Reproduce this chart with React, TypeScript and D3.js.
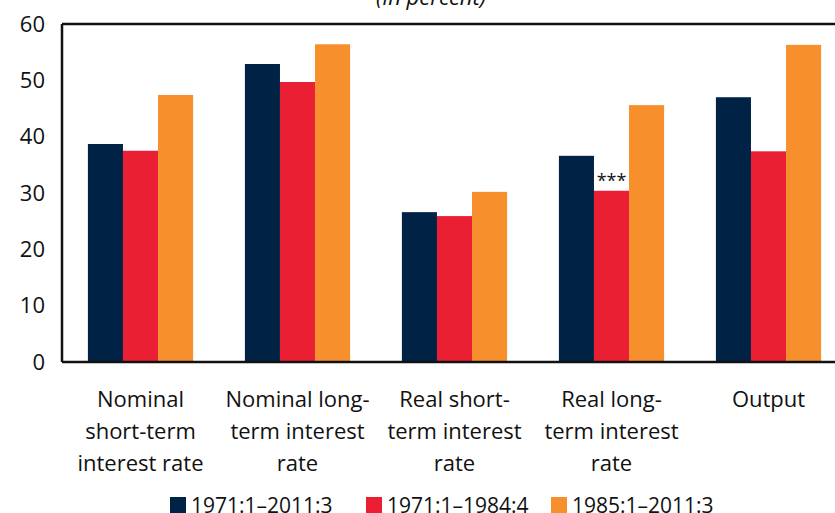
import React, { useEffect, useRef } from "react";
import * as d3 from "d3";

const categories = [
  ["Nominal", "short-term", "interest rate"],
  ["Nominal long-", "term interest", "rate"],
  ["Real short-", "term interest", "rate"],
  ["Real long-", "term interest", "rate"],
  ["Output"],
];
const seriesNames = ["1971:1\u20132011:3", "1971:1\u20131984:4", "1985:1\u20132011:3"];
const fullPeriod = [38.7, 52.9, 26.6, 36.6, 47.0];
const earlyPeriod = [37.5, 49.7, 25.9, 30.4, 37.4];
const latePeriod = [47.4, 56.4, 30.2, 45.6, 56.3];
const yTicks = [0, 10, 20, 30, 40, 50, 60];
const colors = ["#002244", "#ea1f33", "#f68f2c"];
// significance marker: series index 1, category index 3
const starMarks = [{ cat: 3, series: 1, text: "***" }];

const W = 835;
const H = 513;
const margin = { top: 24, left: 62, bottom: 151 };
const plotRight = 847;
const font = "'Open Sans', sans-serif";

const App = () => {
  const ref = useRef<SVGSVGElement>(null);
  useEffect(() => {
    document.body.style.margin = "0";
    const svg = d3.select(ref.current);
    svg.selectAll("*").remove();

    const x = d3
      .scaleBand<number>()
      .domain(d3.range(categories.length))
      .range([margin.left, plotRight])
      .paddingInner(0.33)
      .paddingOuter(0.165);
    const xs = d3
      .scaleBand<number>()
      .domain([0, 1, 2])
      .range([0, x.bandwidth()]);
    const y = d3
      .scaleLinear()
      .domain([0, 60])
      .range([H - margin.bottom, margin.top]);

    const data = [fullPeriod, earlyPeriod, latePeriod];

    svg
      .append("text")
      .attr("x", 431)
      .attr("y", 5)
      .attr("text-anchor", "middle")
      .style("font-family", font)
      .style("font-style", "italic")
      .style("font-size", "22px")
      .attr("fill", "#111")
      .text("(In percent)");

    data.forEach((vals, si) => {
      svg
        .append("g")
        .selectAll("rect")
        .data(vals)
        .enter()
        .append("rect")
        .attr("x", (d, i) => (x(i) as number) + (xs(si) as number))
        .attr("y", (d) => y(d))
        .attr("width", xs.bandwidth())
        .attr("height", (d) => y(0) - y(d))
        .attr("fill", colors[si]);
    });

    starMarks.forEach((m) => {
      svg
        .append("text")
        .attr("x", (x(m.cat) as number) + (xs(m.series) as number) + xs.bandwidth() / 2)
        .attr("y", y(data[m.series][m.cat]) - 4)
        .attr("text-anchor", "middle")
        .style("font-family", font)
        .style("font-size", "18px")
        .attr("fill", "#111")
        .text(m.text);
    });

    // frame: left, top, bottom
    const frame = svg.append("g").attr("stroke", "#111").attr("stroke-width", 2.5);
    frame.append("line").attr("x1", margin.left).attr("x2", margin.left).attr("y1", y(60)).attr("y2", y(0));
    frame.append("line").attr("x1", margin.left).attr("x2", plotRight).attr("y1", y(60)).attr("y2", y(60));
    frame.append("line").attr("x1", margin.left).attr("x2", plotRight).attr("y1", y(0)).attr("y2", y(0));

    svg
      .append("g")
      .selectAll("text")
      .data(yTicks)
      .enter()
      .append("text")
      .attr("x", 45)
      .attr("y", (d) => y(d))
      .attr("dy", "0.35em")
      .attr("text-anchor", "end")
      .style("font-family", font)
      .style("font-size", "22px")
      .attr("fill", "#111")
      .text((d) => d);

    const labels = svg
      .append("g")
      .selectAll("text")
      .data(categories)
      .enter()
      .append("text")
      .attr("text-anchor", "middle")
      .style("font-family", font)
      .style("font-size", "22px")
      .attr("fill", "#111");
    labels
      .selectAll("tspan")
      .data((d, i) => d.map((t) => ({ t, i })))
      .enter()
      .append("tspan")
      .attr("x", (d) => (x(d.i) as number) + x.bandwidth() / 2)
      .attr("y", (d, j) => 407 + j * 32)
      .text((d) => d.t);

    const legendX = [170, 366, 551];
    const legend = svg
      .append("g")
      .selectAll("g")
      .data(seriesNames)
      .enter()
      .append("g")
      .attr("transform", (d, i) => `translate(${legendX[i]},505)`);
    legend
      .append("rect")
      .attr("x", 0)
      .attr("y", -8)
      .attr("width", 16)
      .attr("height", 16)
      .attr("fill", (d, i) => colors[i]);
    legend
      .append("text")
      .attr("x", 21)
      .attr("y", 0)
      .attr("dy", "0.36em")
      .style("font-family", font)
      .style("font-size", "21px")
      .attr("fill", "#111")
      .text((d) => d);
  }, []);
  return <svg ref={ref} width={W} height={H} style={{ display: "block" }}></svg>;
};

export default App;
